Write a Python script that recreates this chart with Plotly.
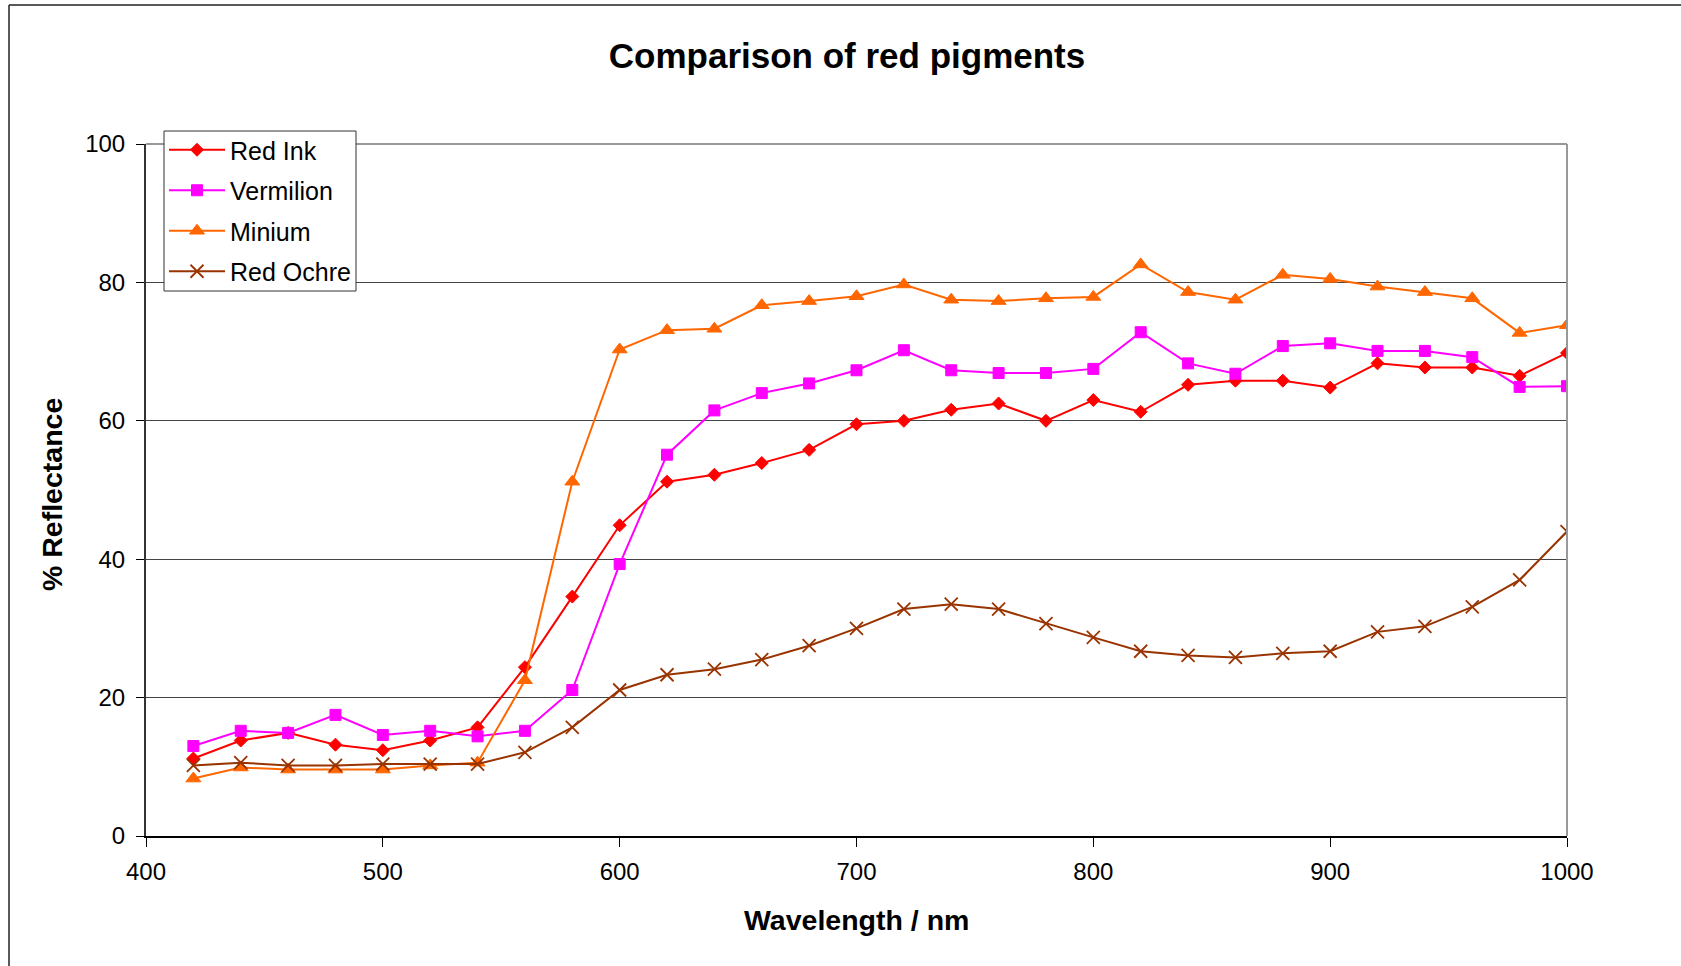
import plotly.graph_objects as go

wavelength = list(range(420, 1001, 20))

red_ink = [11.2, 13.8, 14.9, 13.2, 12.4, 13.8, 15.7, 24.4, 34.6, 44.9,
           51.2, 52.2, 53.9, 55.8, 59.5, 60.0, 61.6, 62.5, 60.0, 63.0,
           61.3, 65.2, 65.8, 65.8, 64.8, 68.3, 67.7, 67.7, 66.5, 69.8]
vermilion = [13.0, 15.2, 14.9, 17.5, 14.6, 15.2, 14.4, 15.2, 21.1, 39.3,
             55.1, 61.5, 64.0, 65.4, 67.3, 70.2, 67.3, 66.9, 66.9, 67.5,
             72.8, 68.3, 66.8, 70.8, 71.2, 70.1, 70.1, 69.2, 64.9, 65.0]
minium = [8.3, 9.9, 9.6, 9.6, 9.6, 10.2, 10.6, 22.5, 51.2, 70.3,
          73.1, 73.3, 76.7, 77.3, 78.0, 79.7, 77.5, 77.3, 77.7, 77.9,
          82.6, 78.6, 77.5, 81.1, 80.5, 79.4, 78.6, 77.7, 72.7, 73.8]
red_ochre = [10.2, 10.6, 10.2, 10.2, 10.4, 10.4, 10.4, 12.1, 15.7, 21.1,
             23.3, 24.1, 25.5, 27.5, 30.0, 32.8, 33.5, 32.8, 30.7, 28.7,
             26.7, 26.1, 25.8, 26.4, 26.7, 29.5, 30.3, 33.1, 37.0, 44.0]

series_names = ["Red Ink", "Vermilion", "Minium", "Red Ochre"]
series_values = [red_ink, vermilion, minium, red_ochre]
colors = ["#FF0000", "#FF00FF", "#FF6600", "#993300"]
symbols = ["diamond", "square", "triangle-up", "x-thin-open"]
sizes = [10, 11, 13, 13]

x_ticks = [400, 500, 600, 700, 800, 900, 1000]
y_ticks = [0, 20, 40, 60, 80, 100]

FONT = "Liberation Sans, Arial, sans-serif"

fig = go.Figure()
for name, vals, col, sym, sz in zip(series_names, series_values, colors, symbols, sizes):
    marker = dict(symbol=sym, size=sz, color=col, line=dict(color=col, width=1))
    if sym == "x-thin-open":
        marker["line"] = dict(color=col, width=1.8)
    fig.add_trace(go.Scatter(
        x=wavelength, y=vals, name=name, mode="lines+markers",
        line=dict(color=col, width=2), marker=marker,
        legendgroup=name,
    ))

W, H = 1681, 966
ml, mr, mt, mb = 146, 114, 144, 130
pw, ph = W - ml - mr, H - mt - mb

def px_x(p):
    return (p - ml) / pw

def px_y(p):
    return 1 - (p - mt) / ph

fig.update_layout(
    width=W, height=H,
    margin=dict(l=ml, r=mr, t=mt, b=mb),
    paper_bgcolor="white", plot_bgcolor="white",
    font=dict(family=FONT, size=24, color="black"),
    title=dict(text="<b>Comparison of red pigments</b>", x=847 / W, xanchor="center",
               y=1 - 56 / H, yanchor="middle", font=dict(size=35, family=FONT, color="black")),
    showlegend=True,
    legend=dict(x=px_x(164), y=px_y(127), xanchor="left", yanchor="top",
                bgcolor="rgba(0,0,0,0)", borderwidth=0,
                font=dict(size=25, family=FONT), tracegroupgap=5,
                itemwidth=56),
    xaxis=dict(range=[400, 1000], tickvals=x_ticks, showgrid=False, zeroline=False,
               showline=True, linecolor="black", linewidth=2,
               ticks="outside", ticklen=9, tickcolor="black", tickwidth=1,
               ticklabelstandoff=4, mirror=False),
    yaxis=dict(range=[0, 100], tickvals=y_ticks, showgrid=True, gridcolor="#444444", gridwidth=1,
               zeroline=False, showline=True, linecolor="#333333", linewidth=2,
               ticks="outside", ticklen=8, tickcolor="black", tickwidth=1,
               ticklabelstandoff=6),
    annotations=[
        dict(text="<b>Wavelength / nm</b>", xref="paper", yref="paper",
             x=0.5, y=px_y(920), xanchor="center", yanchor="middle", showarrow=False,
             font=dict(size=28.5, family=FONT)),
        dict(text="<b>% Reflectance</b>", xref="paper", yref="paper", textangle=-90,
             x=px_x(52), y=px_y(494), xanchor="center", yanchor="middle", showarrow=False,
             font=dict(size=28.5, family=FONT)),
    ],
    shapes=[
        dict(type="line", xref="paper", yref="paper", x0=0, x1=1, y0=1, y1=1,
             line=dict(color="#999999", width=2)),
        dict(type="line", xref="paper", yref="paper", x0=1, x1=1, y0=0, y1=1,
             line=dict(color="#999999", width=2)),
        dict(type="line", xref="paper", yref="paper", x0=px_x(9), x1=px_x(9), y0=px_y(5), y1=px_y(H + 5),
             line=dict(color="#222222", width=1.5)),
        dict(type="line", xref="paper", yref="paper", x0=px_x(9), x1=px_x(W + 5), y0=px_y(5), y1=px_y(5),
             line=dict(color="#222222", width=1.5)),
        # legend frame (white box with dark border, under the legend entries)
        dict(type="rect", xref="paper", yref="paper", x0=px_x(164), x1=px_x(356),
             y0=px_y(131), y1=px_y(291), line=dict(color="#333333", width=1),
             fillcolor="white", layer="above"),
    ],
)

fig.write_html("out.html", config={"displayModeBar": False},
               post_script="document.body.style.margin='0';")
